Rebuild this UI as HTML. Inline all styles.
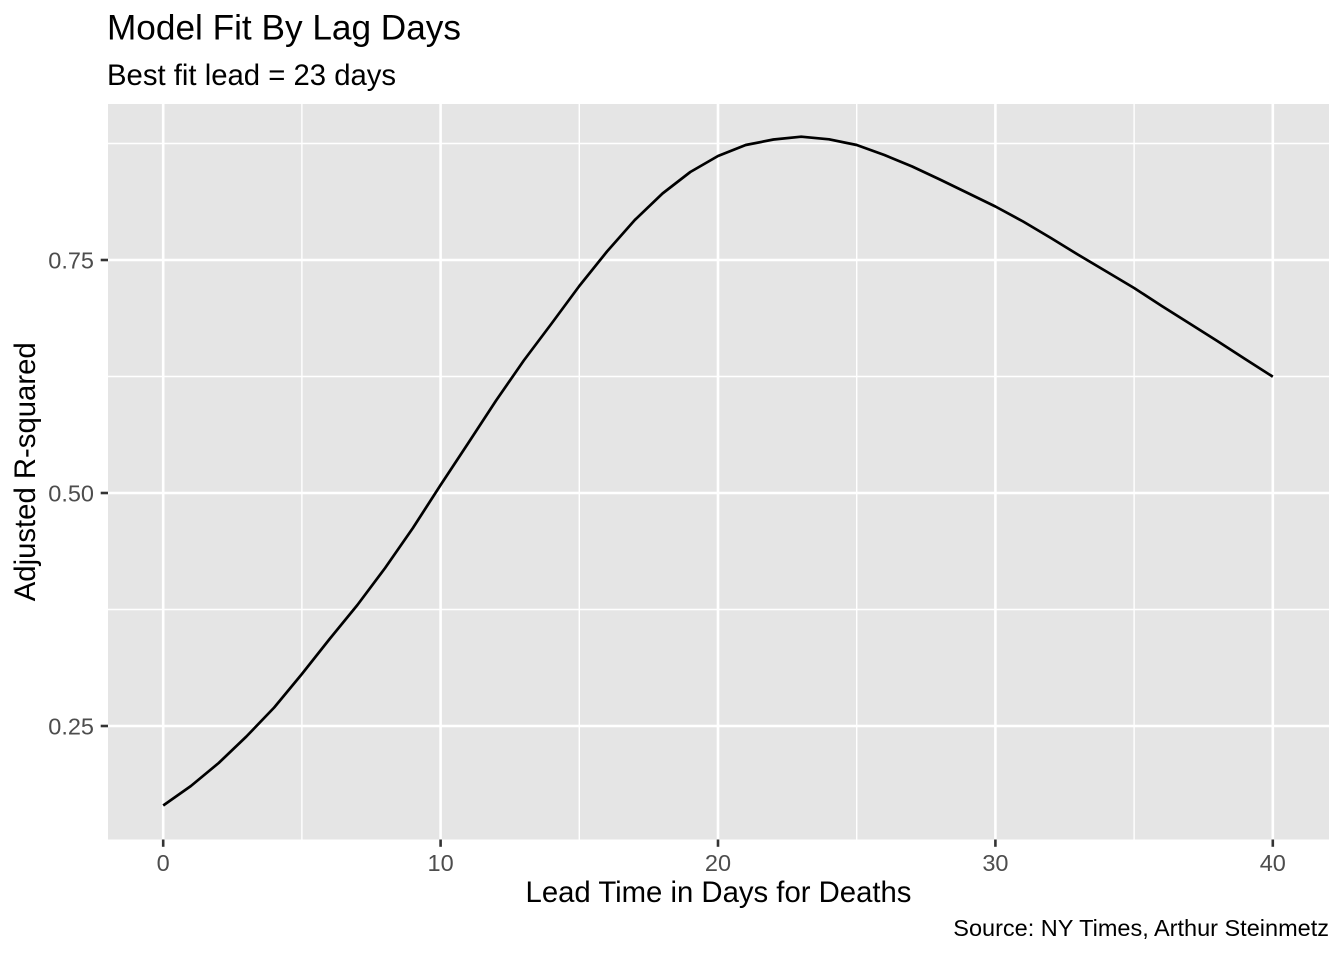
<!DOCTYPE html>
<html><head><meta charset="utf-8"><style>
html,body{margin:0;padding:0;background:#fff;}
svg{display:block;font-family:"Liberation Sans",Arial,sans-serif;}
</style></head><body>
<svg width="1344" height="960" viewBox="0 0 1344 960" xmlns="http://www.w3.org/2000/svg">
<rect x="0" y="0" width="1344" height="960" fill="#fff"/>
<rect x="108" y="104" width="1221" height="735.5" fill="#E5E5E5"/>
<g stroke="#fff" stroke-width="1.4" fill="none">
<line x1="108" x2="1329" y1="143.5" y2="143.5"/>
<line x1="108" x2="1329" y1="376.5" y2="376.5"/>
<line x1="108" x2="1329" y1="609.5" y2="609.5"/>
<line x1="301.9" x2="301.9" y1="104" y2="839.5"/>
<line x1="579.3" x2="579.3" y1="104" y2="839.5"/>
<line x1="856.7" x2="856.7" y1="104" y2="839.5"/>
<line x1="1134.1" x2="1134.1" y1="104" y2="839.5"/>
</g>
<g stroke="#fff" stroke-width="2.6" fill="none">
<line x1="108" x2="1329" y1="260" y2="260"/>
<line x1="108" x2="1329" y1="493" y2="493"/>
<line x1="108" x2="1329" y1="726" y2="726"/>
<line x1="163.2" x2="163.2" y1="104" y2="839.5"/>
<line x1="440.6" x2="440.6" y1="104" y2="839.5"/>
<line x1="718" x2="718" y1="104" y2="839.5"/>
<line x1="995.4" x2="995.4" y1="104" y2="839.5"/>
<line x1="1272.8" x2="1272.8" y1="104" y2="839.5"/>
</g>
<polyline fill="none" stroke="#000" stroke-width="2.7" stroke-linejoin="round" points="
163.2,805.5 190.9,786 218.7,763 246.4,736.5 274.2,707.5 301.9,674 329.6,639 357.4,605 385.1,568 412.9,528
440.6,485 468.3,443 496.1,400.5 523.8,360.5 551.6,323.5 579.3,286 607,251.5 634.8,220 662.5,193.5 690.3,172
718,156 745.7,145 773.5,139.5 801.2,136.7 829,139.3 856.7,145 884.4,155 912.2,166.5 939.9,179.5 967.7,193
995.4,206.5 1023.1,221.5 1050.9,238 1078.6,255 1106.4,271.5 1134.1,288 1161.8,306 1189.6,323.5 1217.3,341 1245.1,359 1272.8,376.7"/>
<g stroke="#333" stroke-width="2.6">
<line x1="100.7" x2="108" y1="260" y2="260"/>
<line x1="100.7" x2="108" y1="493" y2="493"/>
<line x1="100.7" x2="108" y1="726" y2="726"/>
<line x1="163.2" x2="163.2" y1="839.5" y2="846.8"/>
<line x1="440.6" x2="440.6" y1="839.5" y2="846.8"/>
<line x1="718" x2="718" y1="839.5" y2="846.8"/>
<line x1="995.4" x2="995.4" y1="839.5" y2="846.8"/>
<line x1="1272.8" x2="1272.8" y1="839.5" y2="846.8"/>
</g>
<g fill="#4D4D4D" font-size="23.5" text-anchor="end">
<text x="94" y="268.5">0.75</text>
<text x="94" y="501.5">0.50</text>
<text x="94" y="734.5">0.25</text>
</g>
<g fill="#4D4D4D" font-size="23.5" text-anchor="middle">
<text x="163.2" y="871">0</text>
<text x="440.6" y="871">10</text>
<text x="718" y="871">20</text>
<text x="995.4" y="871">30</text>
<text x="1272.8" y="871">40</text>
</g>
<text x="718.5" y="902" font-size="29.3" text-anchor="middle" fill="#000">Lead Time in Days for Deaths</text>
<text x="35" y="471.8" font-size="29.3" text-anchor="middle" fill="#000" transform="rotate(-90 35 471.8)">Adjusted R-squared</text>
<text x="107" y="39.5" font-size="35.2" fill="#000">Model Fit By Lag Days</text>
<text x="107" y="85" font-size="29.3" fill="#000">Best fit lead = 23 days</text>
<text x="1329" y="936" font-size="23.5" text-anchor="end" fill="#000">Source: NY Times, Arthur Steinmetz</text>
</svg>
</body></html>
